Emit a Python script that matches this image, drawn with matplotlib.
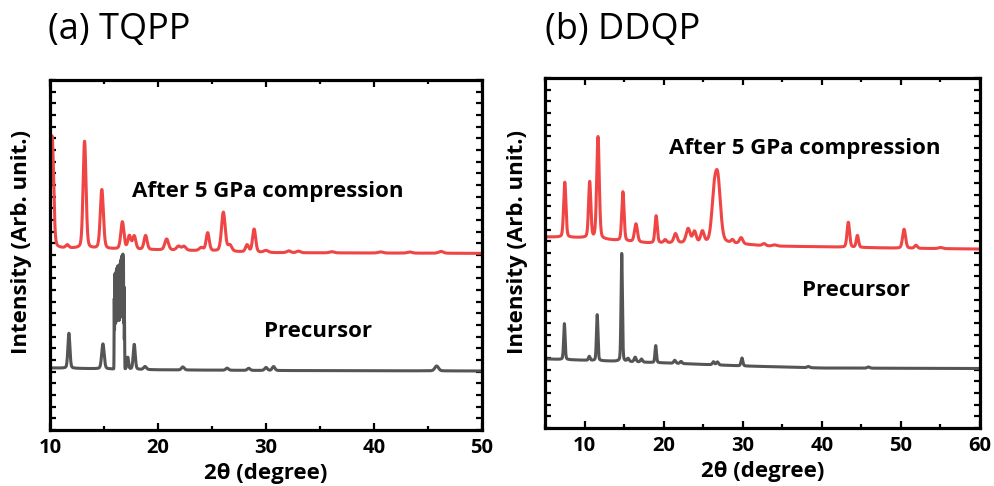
import numpy as np
import matplotlib
matplotlib.use("Agg")
import matplotlib.pyplot as plt
from matplotlib.ticker import MultipleLocator

plt.rcParams['font.family'] = ['Open Sans', 'DejaVu Sans']

# ---------------- data ----------------
# Panel (a) TQPP
a_red_base_x = [10, 20, 25, 30, 50]
a_red_base_y = [7.80, 7.72, 7.67, 7.60, 7.57]
a_red_pos = [10.2, 11.6, 13.2, 14.8, 16.7, 17.35, 17.8, 18.85, 20.8, 21.9, 22.4, 24.0, 24.6,
             26.05, 26.65, 28.25, 28.9, 30.0, 32.1, 33.0, 36.1, 40.6, 43.3, 46.2]
a_red_h = [4.80, 0.13, 4.59, 2.53, 1.16, 0.56, 0.56, 0.60, 0.47, 0.17, 0.17, 0.13, 0.77,
           1.67, 0.26, 0.30, 0.99, 0.09, 0.08, 0.07, 0.05, 0.05, 0.05, 0.08]
a_red_w = [0.32, 0.32, 0.32, 0.34, 0.34, 0.34, 0.34, 0.34, 0.4, 0.42, 0.42, 0.42, 0.34,
           0.4, 0.42, 0.34, 0.34, 0.5, 0.42, 0.42, 0.5, 0.5, 0.5, 0.5]

a_gray_base_x = [10, 20, 30, 50]
a_gray_base_y = [2.66, 2.58, 2.55, 2.53]
a_gray_pos = [11.75, 14.9, 17.2, 17.8, 18.8, 22.3, 26.4, 28.4, 30.0, 30.7, 45.8]
a_gray_h = [1.50, 1.07, 0.51, 1.07, 0.13, 0.13, 0.09, 0.09, 0.13, 0.17, 0.21]
a_gray_w = [0.22, 0.27, 0.17, 0.22, 0.3, 0.3, 0.3, 0.3, 0.3, 0.3, 0.4]
# dense, unresolved cluster of precursor reflections around 16-17 degrees
a_gray_cl_pos = [15.95, 16.0, 16.05, 16.1, 16.15, 16.2, 16.25, 16.3, 16.35, 16.4,
                 16.45, 16.5, 16.55, 16.6, 16.65, 16.7, 16.75, 16.8, 16.85, 16.9]
a_gray_cl_h = [3.0, 4.05, 3.9, 4.1, 4.2, 4.3, 4.35, 4.4, 4.3, 4.2,
               4.4, 4.5, 4.6, 4.7, 4.8, 4.85, 4.89, 4.7, 3.5, 2.0]

# Panel (b) DDQP
b_red_base_x = [5, 10, 18, 28, 33, 41, 49, 60]
b_red_base_y = [8.19, 8.15, 7.93, 7.93, 7.80, 7.76, 7.71, 7.67]
b_red_pos = [7.5, 10.65, 11.7, 14.85, 16.5, 19.05, 20.2, 21.5, 23.1, 23.9, 24.9,
             26.35, 26.85, 28.7, 29.8, 32.7, 34.0, 43.35, 44.5, 50.4, 51.9, 55.0]
b_red_h = [2.36, 2.40, 4.37, 2.10, 0.77, 1.16, 0.13, 0.39, 0.60, 0.47, 0.47,
           1.6, 2.6, 0.13, 0.26, 0.09, 0.05, 1.07, 0.51, 0.81, 0.13, 0.05]
b_red_w = [0.34, 0.34, 0.38, 0.34, 0.44, 0.34, 0.4, 0.5, 0.6, 0.5, 0.5,
           0.7, 0.8, 0.4, 0.5, 0.5, 0.6, 0.38, 0.34, 0.44, 0.4, 0.6]

b_gray_base_x = [5, 20, 30, 40, 60]
b_gray_base_y = [2.96, 2.79, 2.66, 2.57, 2.55]
b_gray_pos = [7.45, 10.6, 11.6, 14.7, 15.5, 16.4, 17.2, 19.0, 21.4, 22.2, 26.3, 26.8, 29.9, 38.3, 45.9]
b_gray_h = [1.54, 0.17, 1.97, 4.63, 0.13, 0.20, 0.13, 0.73, 0.13, 0.09, 0.13, 0.13, 0.34, 0.05, 0.05]
b_gray_w = [0.22, 0.25, 0.22, 0.2, 0.3, 0.3, 0.3, 0.22, 0.3, 0.3, 0.3, 0.3, 0.27, 0.4, 0.4]

RED = '#f04545'
GRAY = '#555555'
LW = 2.2


def pattern(x, bx, by, pos, h, w, eta=0.25):
    y = np.interp(x, bx, by)
    for p, a, fw in zip(pos, h, w):
        s = fw / 2.3548
        g = np.exp(-0.5 * ((x - p) / s) ** 2)
        l = 1.0 / (1.0 + ((x - p) / (fw / 2)) ** 2)
        y = y + a * ((1 - eta) * g + eta * l)
    return y


fig = plt.figure(figsize=(9.94, 4.86), dpi=100)
axa = fig.add_axes([50 / 994, 56 / 486, 432 / 994, 350 / 486])
axb = fig.add_axes([545 / 994, 58 / 486, 435 / 994, 350 / 486])


def style(ax, xlim, xticks):
    ax.set_xlim(*xlim)
    ax.set_ylim(0, 15)
    ax.xaxis.set_major_locator(MultipleLocator(10))
    ax.xaxis.set_minor_locator(MultipleLocator(5))
    ax.yaxis.set_major_locator(MultipleLocator(1))
    ax.yaxis.set_minor_locator(MultipleLocator(0.5))
    ax.set_xticks(xticks)
    ax.set_xticklabels([str(t) for t in xticks], fontsize=14.5, fontweight='bold')
    ax.tick_params(which='both', direction='in', top=True, right=True, labelleft=False)
    ax.tick_params(which='major', axis='x', length=5, width=1.6, pad=6)
    ax.tick_params(which='minor', axis='x', length=3, width=1.6)
    ax.tick_params(which='major', axis='y', length=4, width=1.6)
    ax.tick_params(which='minor', axis='y', length=4, width=1.6)
    for sp in ax.spines.values():
        sp.set_linewidth(2.3)
    ax.set_xlabel('2θ (degree)', fontsize=16, fontweight='bold', labelpad=3)


xa = np.linspace(10, 50, 12001)
ya_gray = pattern(xa, a_gray_base_x, a_gray_base_y, a_gray_pos, a_gray_h, a_gray_w)
ya_gray = ya_gray + pattern(xa, [10, 50], [0, 0], a_gray_cl_pos, a_gray_cl_h,
                            [0.035] * len(a_gray_cl_pos), eta=0.0)
axa.plot(xa, pattern(xa, a_red_base_x, a_red_base_y, a_red_pos, a_red_h, a_red_w), color=RED, lw=LW)
axa.plot(xa, ya_gray, color=GRAY, lw=LW)
style(axa, (10, 50), [10, 20, 30, 40, 50])
axa.text(10 + (267.5 - 50) / 432 * 40, (430 - 192) / 23.33, 'After 5 GPa compression', fontsize=16,
         fontweight='bold', ha='center', va='center')
axa.text(10 + (318 - 50) / 432 * 40, (430 - 332) / 23.33, 'Precursor', fontsize=16, fontweight='bold',
         ha='center', va='center')

xb = np.linspace(5, 60, 12001)
axb.plot(xb, pattern(xb, b_red_base_x, b_red_base_y, b_red_pos, b_red_h, b_red_w), color=RED, lw=LW)
axb.plot(xb, pattern(xb, b_gray_base_x, b_gray_base_y, b_gray_pos, b_gray_h, b_gray_w), color=GRAY, lw=LW)
style(axb, (5, 60), [10, 20, 30, 40, 50, 60])
axb.text(5 + (805 - 545) / 435 * 55, (428 - 149) / 23.33, 'After 5 GPa compression', fontsize=16,
         fontweight='bold', ha='center', va='center')
axb.text(5 + (856.5 - 545) / 435 * 55, (428 - 291) / 23.33, 'Precursor', fontsize=16, fontweight='bold',
         ha='center', va='center')

fig.text(22 / 994, 1 - 242 / 486, 'Intensity (Arb. unit.)', fontsize=16, fontweight='bold',
         rotation=90, ha='center', va='center')
fig.text(518 / 994, 1 - 242 / 486, 'Intensity (Arb. unit.)', fontsize=16, fontweight='bold',
         rotation=90, ha='center', va='center')

fig.text(48 / 994, 1 - 30 / 486, '(a) TQPP', fontsize=26, ha='left', va='center')
fig.text(545 / 994, 1 - 30 / 486, '(b) DDQP', fontsize=26, ha='left', va='center')

fig.savefig('out.png', dpi=100)
